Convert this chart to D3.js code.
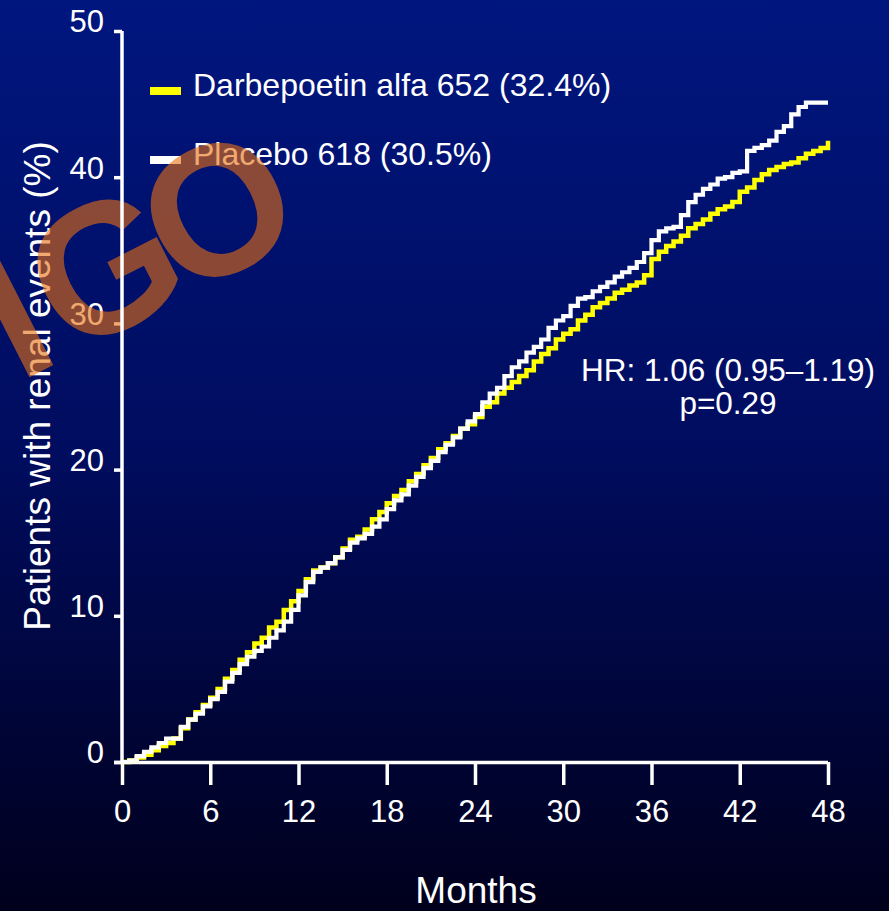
<!DOCTYPE html>
<html>
<head>
<meta charset="utf-8">
<script src="https://cdn.jsdelivr.net/npm/d3@7"></script>
<style>
  html, body { margin: 0; padding: 0; background: #000; }
  svg { display: block; }
  text { font-family: "Liberation Sans", Arial, sans-serif; fill: #fff; }
</style>
</head>
<body>
<svg id="chart" width="889" height="911"></svg>
<script>
// Cumulative incidence of renal events (%), read every half month
const months = d3.range(0, 48.01, 0.5);

const darbepoetin = [
  0, 0.1, 0.3, 0.5, 0.8, 1.1, 1.3, 1.6, 2.3, 2.9,
  3.4, 3.9, 4.4, 5.0, 5.7, 6.3, 7.0, 7.5, 8.1, 8.5,
  9.2, 9.6, 10.4, 11.0, 11.7, 12.5, 13.1, 13.3, 13.6, 14.0,
  14.6, 15.2, 15.4, 15.9, 16.6, 17.1, 17.7, 18.2, 18.6, 19.2,
  19.7, 20.3, 20.8, 21.4, 21.8, 22.3, 22.8, 23.1, 23.6, 24.3,
  24.6, 25.2, 25.6, 26.0, 26.4, 26.8, 27.4, 27.9, 28.3, 28.9,
  29.3, 29.6, 30.2, 30.6, 31.1, 31.4, 31.7, 32.1, 32.3, 32.6,
  32.8, 33.3, 34.4, 34.9, 35.3, 35.6, 36.0, 36.5, 36.8, 37.1,
  37.5, 37.8, 38.0, 38.3, 39.0, 39.3, 39.8, 40.2, 40.5, 40.7,
  40.9, 41.0, 41.3, 41.6, 41.8, 42.0, 42.5
];

const placebo = [
  0, 0.1, 0.4, 0.7, 1.0, 1.3, 1.6, 1.6, 2.4, 2.9,
  3.3, 3.8, 4.3, 4.8, 5.5, 6.1, 6.7, 7.2, 7.6, 7.9,
  8.5, 9.0, 9.6, 10.4, 11.4, 12.3, 13.0, 13.3, 13.6, 14.0,
  14.5, 15.0, 15.3, 15.6, 16.1, 16.6, 17.3, 17.9, 18.3, 18.9,
  19.5, 20.1, 20.6, 21.2, 21.7, 22.2, 22.8, 23.3, 23.8, 24.6,
  25.2, 25.6, 26.4, 27.0, 27.4, 28.0, 28.4, 28.9, 29.7, 30.2,
  30.5, 31.2, 31.7, 31.8, 32.2, 32.5, 32.8, 33.2, 33.5, 33.8,
  34.2, 34.8, 35.7, 36.3, 36.5, 36.6, 37.4, 38.3, 38.8, 39.2,
  39.5, 39.9, 40.0, 40.3, 40.4, 41.8, 42.0, 42.2, 42.5, 43.1,
  43.5, 44.3, 44.8, 45.1, 45.1, 45.1, 45.1
];

const xTicks = [0, 6, 12, 18, 24, 30, 36, 42, 48];
const yTicks = [0, 10, 20, 30, 40, 50];

const legendItems = [
  { label: "Darbepoetin alfa 652 (32.4%)", color: "#ffff00" },
  { label: "Placebo 618 (30.5%)", color: "#ffffff" }
];
const hrLines = ["HR: 1.06 (0.95\u20131.19)", "p=0.29"];

// Watermark letters and their centre offsets along the tilted baseline
const markLetters = ["K", "D", "I", "G", "O"];
const markOffsets = [-470, -350, -230, -127, 0];

const W = 889, H = 911;
const svg = d3.select("#chart");

// Backdrop: deep blue fading to near black
const defs = svg.append("defs");
const grad = defs.append("linearGradient")
  .attr("id", "bg").attr("x1", 0).attr("y1", 0).attr("x2", 0).attr("y2", 1);
grad.append("stop").attr("offset", "0%").attr("stop-color", "#00167f");
grad.append("stop").attr("offset", "50%").attr("stop-color", "#000c5e");
grad.append("stop").attr("offset", "100%").attr("stop-color", "#00001c");
svg.append("rect").attr("width", W).attr("height", H).attr("fill", "url(#bg)");

const x = d3.scaleLinear().domain([0, 48]).range([122, 828]);
const y = d3.scaleLinear().domain([0, 50]).range([762, 31]);

// Axes
const xAxis = svg.append("g")
  .attr("transform", `translate(0,${y(0)})`)
  .call(d3.axisBottom(x).tickValues(xTicks).tickSize(23).tickPadding(15));
const yAxis = svg.append("g")
  .attr("transform", `translate(${x(0)},0)`)
  .call(d3.axisLeft(y).tickValues(yTicks).tickSize(8).tickPadding(10));

[xAxis, yAxis].forEach(g => {
  g.select(".domain").attr("stroke", "#fff").attr("stroke-width", 3.5);
  g.selectAll(".tick line").attr("stroke", "#fff").attr("stroke-width", 3.5);
  g.selectAll(".tick text")
    .attr("fill", "#fff")
    .style("font-family", "'Liberation Sans', Arial, sans-serif")
    .style("font-size", "31px");
});
xAxis.select(".domain").attr("d", `M${x(0) - 8},0.5H${x(48)}`);
yAxis.select(".domain").remove();
yAxis.selectAll(".tick text").attr("dy", "0.03em");

// Axis titles
svg.append("text")
  .attr("x", (x(0) + x(48)) / 2 + 1).attr("y", 903)
  .attr("text-anchor", "middle")
  .style("font-size", "37px")
  .text("Months");
svg.append("text")
  .attr("transform", `translate(50,${386}) rotate(-90)`)
  .attr("text-anchor", "middle")
  .style("font-size", "37px")
  .text("Patients with renal events (%)");

// Step curves
const line = d3.line()
  .x((d, i) => x(months[i]))
  .y(d => y(d))
  .curve(d3.curveStepAfter);

svg.append("path")
  .datum(darbepoetin)
  .attr("fill", "none")
  .attr("stroke", "#ffff00")
  .attr("stroke-width", 4.5)
  .attr("d", line);
svg.append("path")
  .datum(placebo)
  .attr("fill", "none")
  .attr("stroke", "#ffffff")
  .attr("stroke-width", 4.2)
  .attr("d", line);

// Legend
const legend = svg.append("g");
legendItems.forEach((item, i) => {
  const gy = 91 + i * 69;
  legend.append("rect")
    .attr("x", 150).attr("y", gy - 4).attr("width", 31).attr("height", 8)
    .attr("fill", item.color);
  legend.append("text")
    .attr("x", 193).attr("y", gy + 5)
    .style("font-size", "32px")
    .text(item.label);
});

// Hazard ratio annotation
svg.append("g").selectAll("text")
  .data(hrLines)
  .join("text")
  .attr("x", 728)
  .attr("y", (d, i) => 381 + i * 33)
  .attr("text-anchor", "middle")
  .style("font-size", "31.5px")
  .text(d => d);

// Translucent KDIGO mark across the upper left
const mark = svg.append("g")
  .attr("transform", "translate(216,207) rotate(-27)");
mark.selectAll("text")
  .data(markLetters)
  .join("text")
  .attr("x", (d, i) => markOffsets[i])
  .attr("y", 67)
  .attr("text-anchor", "middle")
  .style("font-size", "185px")
  .style("font-weight", "bold")
  .style("fill", "rgb(232,112,17)")
  .style("fill-opacity", 0.6)
  .text(d => d);

// Vertical axis line sits above the mark
svg.append("line")
  .attr("x1", x(0)).attr("x2", x(0))
  .attr("y1", y(50)).attr("y2", y(0))
  .attr("stroke", "#fff")
  .attr("stroke-width", 3.5);
</script>
</body>
</html>
